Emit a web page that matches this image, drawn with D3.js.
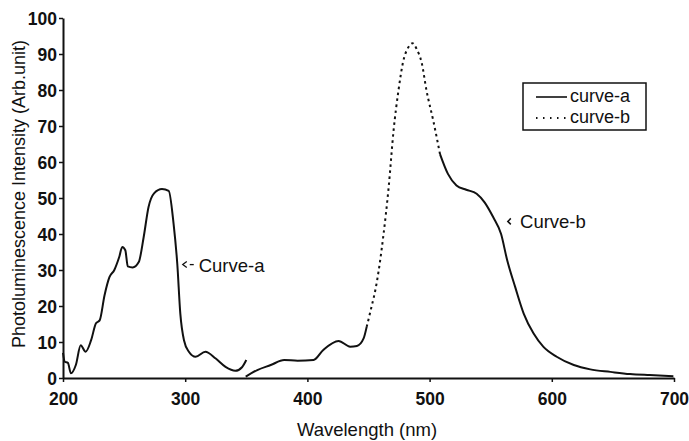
<!DOCTYPE html>
<html>
<head>
<meta charset="utf-8">
<script src="https://cdn.jsdelivr.net/npm/d3@7"></script>
<style>
  body { margin: 0; background: #fff; }
  svg { font-family: "Liberation Sans", Arial, sans-serif; }
</style>
</head>
<body>
<div class="chart"></div>
<script>
// wavelength (nm) / intensity pairs
var curveA = [
  [200, 7], [201.5, 4.5], [204, 4.2], [206.5, 1.3], [210.5, 3.6], [214.5, 9.1],
  [218.5, 7.3], [223, 10.5], [227, 15.2], [230, 16], [234, 23], [238, 28],
  [242, 30], [246, 33.6], [248.5, 36.4], [251, 35.5], [253, 31], [257, 30.7],
  [262, 32.2], [266, 39.1], [270, 47.5], [274.5, 51.3], [281, 52.5], [286.5, 52],
  [290.5, 42.8], [293.5, 31.8], [296, 17.9], [299, 10.5], [303, 7.3], [308.5, 5.9],
  [316.5, 7.3], [325, 5.4], [333, 3.1], [341, 2], [346.5, 3], [350, 5]
];

var curveB = [
  [349.5, 0.4], [359, 2.2], [370, 3.6], [381, 5], [392, 4.8], [405, 5],
  [413, 7.8], [425.5, 10.3], [435, 8.7], [440.5, 8.9], [446, 11], [448.5, 14.2],
  [451.5, 18.4], [457, 27], [462, 39.1], [466.5, 53], [470.5, 68.7], [474.5, 79.8],
  [478.5, 88.1], [482.5, 91.8], [486, 93], [489.5, 91.3], [493.5, 87.6], [497.5, 79.8],
  [503, 71.5], [508.5, 62.2], [515, 56.7], [522, 53.5], [530, 52.3], [538.5, 51.2],
  [545, 48.8], [552, 44.7], [558.5, 40], [563.5, 32.7], [570, 25.3], [577, 17.9],
  [585, 12.4], [593, 8.7], [604, 5.9], [618, 3.6], [631.5, 2.4], [648, 1.7],
  [664, 1.1], [680, 0.8], [699.5, 0.5]
];

// part of curve-b where the dots come apart (steep flank)
var dottedRange = [448.5, 508.5];

var xTicks = [200, 300, 400, 500, 600, 700];
var yTicks = [0, 10, 20, 30, 40, 50, 60, 70, 80, 90, 100];
var legendNames = ["curve-a", "curve-b"];

var svgWidth = 689;
var svgHeight = 441;

var margin = { top: 18, right: 15, bottom: 63, left: 63 };
var chartWidth = svgWidth - margin.left - margin.right;
var chartHeight = svgHeight - margin.top - margin.bottom;

var svg = d3.select(".chart")
  .append("svg")
  .attr("width", svgWidth)
  .attr("height", svgHeight);

var chartGroup = svg.append("g")
  .attr("transform", `translate(${margin.left}, ${margin.top})`);

var x = d3.scaleLinear().domain([200, 700]).range([0, chartWidth]);
var y = d3.scaleLinear().domain([0, 100]).range([chartHeight, 0]);

var ink = "#111";

// axes
var xAxis = chartGroup.append("g")
  .attr("transform", `translate(0, ${chartHeight})`)
  .call(d3.axisBottom(x).tickValues(xTicks).tickSize(4).tickSizeOuter(0).tickPadding(11));

var yAxis = chartGroup.append("g")
  .call(d3.axisLeft(y).tickValues(yTicks).tickSize(4).tickSizeOuter(0).tickPadding(2));

[xAxis, yAxis].forEach(function(g) {
  g.select(".domain").attr("stroke", ink).attr("stroke-width", 2);
  g.selectAll(".tick line").attr("stroke", ink).attr("stroke-width", 1.5);
  g.selectAll(".tick text")
    .attr("fill", ink)
    .style("font-size", "17.5px")
    .style("font-weight", "bold")
    .style("font-family", "Liberation Sans, Arial, sans-serif");
});
yAxis.selectAll(".tick text").attr("dy", "0.36em");

// axis titles
svg.append("text")
  .attr("x", 367)
  .attr("y", 436)
  .attr("text-anchor", "middle")
  .attr("fill", ink)
  .style("font-size", "18.5px")
  .text("Wavelength (nm)");

svg.append("text")
  .attr("transform", "translate(25, 194) rotate(-90)")
  .attr("text-anchor", "middle")
  .attr("fill", ink)
  .style("font-size", "18px")
  .text("Photoluminescence Intensity (Arb.unit)");

// curves
var line = d3.line()
  .x(d => x(d[0]))
  .y(d => y(d[1]))
  .curve(d3.curveMonotoneX);

chartGroup.append("path")
  .datum(curveA)
  .attr("fill", "none")
  .attr("stroke", ink)
  .attr("stroke-width", 2)
  .attr("d", line);

var bBefore = curveB.filter(d => d[0] <= dottedRange[0]);
var bDotted = curveB.filter(d => d[0] >= dottedRange[0] && d[0] <= dottedRange[1]);
var bAfter = curveB.filter(d => d[0] >= dottedRange[1]);

[bBefore, bAfter].forEach(function(seg) {
  chartGroup.append("path")
    .datum(seg)
    .attr("fill", "none")
    .attr("stroke", ink)
    .attr("stroke-width", 2)
    .attr("d", line);
});

chartGroup.append("path")
  .datum(bDotted)
  .attr("fill", "none")
  .attr("stroke", ink)
  .attr("stroke-width", 2)
  .attr("stroke-dasharray", "2.5,3.5")
  .attr("d", line);

// annotations
chartGroup.append("path")
  .attr("d", `M${x(298) + 4},${y(31.5) - 3}L${x(298)},${y(31.5)}L${x(298) + 4},${y(31.5) + 3}`)
  .attr("fill", "none")
  .attr("stroke", ink)
  .attr("stroke-width", 1.3);
chartGroup.append("line")
  .attr("x1", x(298) + 7).attr("x2", x(298) + 11)
  .attr("y1", y(31.5)).attr("y2", y(31.5))
  .attr("stroke", ink)
  .attr("stroke-width", 1.3);
chartGroup.append("text")
  .attr("x", x(311))
  .attr("y", y(31.5) + 7)
  .attr("fill", ink)
  .style("font-size", "18.5px")
  .text("Curve-a");

chartGroup.append("path")
  .attr("d", `M${x(564) + 3},${y(43.5) - 3}L${x(564)},${y(43.5)}L${x(564) + 3},${y(43.5) + 3}`)
  .attr("fill", "none")
  .attr("stroke", ink)
  .attr("stroke-width", 1.5);
chartGroup.append("text")
  .attr("x", x(574))
  .attr("y", y(43.5) + 7)
  .attr("fill", ink)
  .style("font-size", "18.5px")
  .text("Curve-b");

// legend
var legend = svg.append("g").attr("transform", "translate(523, 83)");
legend.append("rect")
  .attr("width", 123)
  .attr("height", 47)
  .attr("fill", "#fff")
  .attr("stroke", ink)
  .attr("stroke-width", 1.5);

legendNames.forEach(function(name, i) {
  var ly = 14 + i * 21;
  legend.append("line")
    .attr("x1", 13).attr("x2", 44)
    .attr("y1", ly).attr("y2", ly)
    .attr("stroke", ink)
    .attr("stroke-width", i === 0 ? 1.6 : 1.8)
    .attr("stroke-dasharray", i === 0 ? null : "1.5,5.5");
  legend.append("text")
    .attr("x", 47)
    .attr("y", ly + 5)
    .attr("fill", ink)
    .style("font-size", "18px")
    .text(name);
});
</script>
</body>
</html>
